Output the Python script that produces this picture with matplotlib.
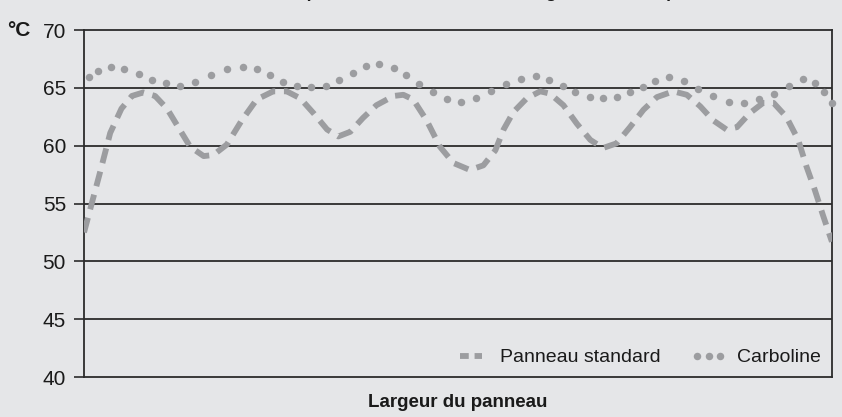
import matplotlib
matplotlib.use("Agg")
import matplotlib.pyplot as plt
from matplotlib.lines import Line2D

plt.rcParams['font.family'] = ['Liberation Sans', 'DejaVu Sans']

# position sur la largeur du panneau (%) et températures (°C)
x_standard = [0, 2.1, 3.5, 5.0, 6.4, 7.9, 9.5, 11.1, 12.6, 14.2, 16.0, 17.3, 19.1, 21.1,
              23.1, 25.3, 27.1, 28.9, 30.7, 32.5, 34.0, 35.6, 37.3, 39.1, 41.4, 42.7,
              44.0, 45.8, 47.6, 49.4, 51.6, 53.4, 55.0, 56.1, 57.4, 59.2, 61.0, 62.3,
              64.1, 65.9, 67.7, 69.4, 71.2, 73.0, 74.8, 76.6, 78.8, 80.6, 82.4, 84.1,
              85.9, 87.3, 89.0, 90.8, 92.2, 93.9, 95.5, 96.6, 97.7, 98.8, 100]
t_standard = [52.5, 57.6, 61.1, 63.2, 64.3, 64.6, 64.3, 63.2, 61.6, 59.9, 59.1, 59.2, 60.1,
              62.2, 64.0, 64.7, 64.7, 64.1, 62.8, 61.4, 60.8, 61.2, 62.4, 63.5, 64.3,
              64.4, 64.0, 62.2, 59.9, 58.5, 57.9, 58.3, 59.6, 61.4, 62.9, 64.1, 64.7,
              64.5, 63.5, 61.9, 60.5, 59.8, 60.2, 61.6, 63.1, 64.2, 64.7, 64.4, 63.4,
              62.2, 61.4, 61.6, 62.8, 63.7, 63.7, 62.5, 60.5, 58.2, 56.2, 54.0, 51.7]

x_carboline = [0.7, 1.9, 3.6, 5.4, 7.3, 9.1, 11.0, 12.8, 14.9, 17.0, 19.1, 21.2, 23.1,
               24.8, 26.6, 28.5, 30.4, 32.3, 34.1, 35.9, 37.7, 39.5, 41.4, 43.1, 44.8,
               46.6, 48.5, 50.4, 52.4, 54.4, 56.4, 58.4, 60.4, 62.2, 64.0, 65.7, 67.6,
               69.4, 71.2, 73.0, 74.7, 76.4, 78.2, 80.2, 82.1, 84.1, 86.2, 88.2, 90.3,
               92.3, 94.2, 96.2, 97.7, 98.9, 100]
t_carboline = [65.9, 66.5, 66.8, 66.6, 66.2, 65.7, 65.4, 65.2, 65.5, 66.1, 66.6, 66.8, 66.6,
               66.1, 65.5, 65.2, 65.1, 65.2, 65.7, 66.3, 66.9, 67.1, 66.7, 66.1, 65.3,
               64.6, 64.0, 63.8, 64.1, 64.7, 65.3, 65.8, 66.0, 65.7, 65.2, 64.6, 64.2,
               64.1, 64.2, 64.6, 65.1, 65.6, 65.9, 65.6, 64.9, 64.3, 63.8, 63.7, 64.0,
               64.5, 65.2, 65.8, 65.4, 64.6, 63.7]

y_ticks = [40, 45, 50, 55, 60, 65, 70]

bg = '#e5e6e8'
grey = '#9c9da0'
dark = '#2b2b2b'

fig = plt.figure(figsize=(8.42, 4.17), dpi=100, facecolor=bg)
ax = fig.add_axes([0.0998, 0.0959, 0.8882, 0.8321])
ax.set_facecolor(bg)

ax.set_xlim(0, 100)
ax.set_ylim(40, 70)
ax.set_yticks(y_ticks)
ax.set_xticks([])
for v in y_ticks[1:-1]:
    ax.axhline(v, color=dark, lw=1.3, zorder=1)

ax.plot(x_standard, t_standard, color=grey, lw=4.2, dashes=(2.6, 1.5),
        dash_capstyle='butt', zorder=3)
ax.plot(x_carboline, t_carboline, 'o', color=grey, ms=5.4, mew=0, zorder=3, clip_on=False)

for s in ax.spines.values():
    s.set_color(dark)
    s.set_linewidth(1.3)

ax.tick_params(axis='y', length=7, width=1.2, color=dark, pad=6, labelsize=15,
               labelcolor='#1a1a1a')

fig.text(0.009, 0.928, '°C', fontsize=15, fontweight='bold', va='center', ha='left',
         color='#1a1a1a')

ax.set_xlabel('Largeur du panneau', fontsize=13.5, fontweight='bold', labelpad=12,
              color='#1a1a1a')

# titre coupé en haut de l'image (seules les jambages restent visibles)
fig.text(0.323, 1.005, 'Température de surface sur la largeur totale du panneau',
         fontsize=12.5, fontweight='bold', ha='left', va='baseline', color='#1a1a1a')

h1 = Line2D([], [], color=grey, lw=4.2, dashes=(1.5, 1.0), dash_capstyle='butt')
h2 = Line2D([], [], color=grey, marker='o', ls='none', ms=5.4, mew=0)
ax.legend([h1, h2], ['Panneau standard', 'Carboline'], loc='lower right', ncol=2,
          frameon=False, fontsize=14, numpoints=3, handlelength=1.75, columnspacing=1.6,
          handletextpad=0.6, borderaxespad=0.15, labelcolor='#1a1a1a')

fig.savefig('out.png', dpi=100, facecolor=bg)
